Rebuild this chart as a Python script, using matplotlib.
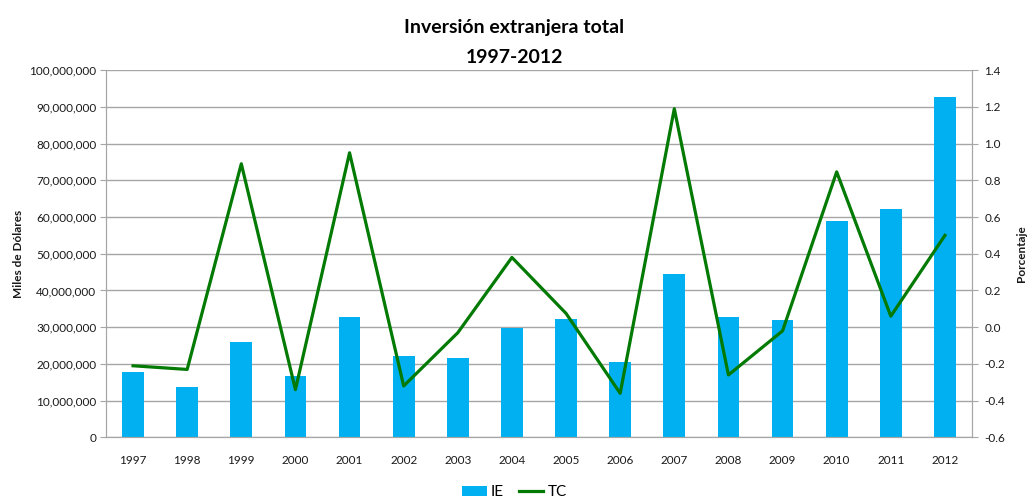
import matplotlib
matplotlib.use("Agg")
import matplotlib.pyplot as plt
from matplotlib.ticker import FuncFormatter, MultipleLocator
import numpy as np

plt.rcParams['font.family'] = ['Lato', 'DejaVu Sans']

years = ['1997', '1998', '1999', '2000', '2001', '2002', '2003', '2004',
         '2005', '2006', '2007', '2008', '2009', '2010', '2011', '2012']
# Inversión extranjera (miles de dólares)
ie = [17.7e6, 13.8e6, 25.9e6, 16.8e6, 32.8e6, 22.2e6, 21.7e6, 29.9e6,
      32.2e6, 20.4e6, 44.6e6, 32.8e6, 31.9e6, 59.0e6, 62.2e6, 92.7e6]
# Tasa de cambio (porcentaje)
tc = [-0.21, -0.23, 0.89, -0.34, 0.95, -0.32, -0.03, 0.38,
      0.075, -0.36, 1.19, -0.26, -0.02, 0.846, 0.06, 0.50]

bar_color = '#00B0F0'
line_color = '#037A03'
grid_color = '#A6A6A6'
text_color = '#1a1a1a'

fig = plt.figure(figsize=(10.29, 5.01), dpi=100)
ax = fig.add_axes([0.103, 0.127, 0.8416, 0.733])
ax2 = ax.twinx()

x = np.arange(len(years))
bars = ax.bar(x, ie, width=0.4, color=bar_color, zorder=2, label='IE')
ax.set_xlim(-0.5, len(years) - 0.5)
ax.set_ylim(0, 100e6)
ax.yaxis.set_major_locator(MultipleLocator(10e6))
ax.yaxis.set_major_formatter(FuncFormatter(lambda v, p: f'{v:,.0f}'))
ax.set_xticks(x)
ax.set_xticklabels(years)
ax.grid(axis='y', color=grid_color, linewidth=1, zorder=0)
ax.set_axisbelow(True)

line, = ax2.plot(x, tc, color=line_color, linewidth=2.3, zorder=3, label='TC')
ax2.set_ylim(-0.6, 1.4)
ax2.yaxis.set_major_locator(MultipleLocator(0.2))
ax2.yaxis.set_major_formatter(FuncFormatter(lambda v, p: f'{v:.1f}'))

for a in (ax, ax2):
    for side in ('left', 'right', 'bottom', 'top'):
        a.spines[side].set_color(grid_color)
    a.spines['top'].set_visible(False)
    a.tick_params(colors=text_color, labelsize=8.5, color=grid_color, length=4)

ax.tick_params(axis='x', length=0, pad=13)
ax.tick_params(axis='y', pad=3)
ax2.tick_params(axis='y', pad=5)

ax.set_ylabel('Miles de Dólares', fontsize=8.5, fontweight='bold', color=text_color, labelpad=4)
ax2.set_ylabel('Porcentaje', fontsize=8.5, fontweight='bold', color=text_color, labelpad=8, rotation=90)

fig.text(0.5, 0.945, 'Inversión extranjera total', ha='center', va='center',
         fontsize=14, fontweight='bold', color='black')
fig.text(0.5, 0.885, '1997-2012', ha='center', va='center',
         fontsize=14, fontweight='bold', color='black')

fig.legend([bars, line], ['IE', 'TC'], loc='center', bbox_to_anchor=(0.5, 0.017),
           ncol=2, frameon=False, fontsize=11, handlelength=1.6, handletextpad=0.25,
           columnspacing=1.0)

fig.savefig('out.png', dpi=100)
